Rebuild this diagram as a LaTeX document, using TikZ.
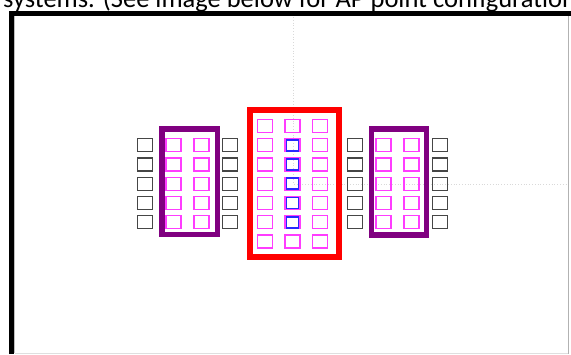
\documentclass[tikz,border=0pt]{standalone}
\usepackage{fontspec}
\setmainfont{Carlito}
\definecolor{pinkline}{RGB}{255,60,255}
\definecolor{blueline}{RGB}{40,40,255}
\definecolor{grayline}{RGB}{70,70,70}
\definecolor{boxpurple}{RGB}{128,0,128}
\definecolor{boxred}{RGB}{255,0,0}
\begin{document}
\begin{tikzpicture}[x=1pt,y=-1pt,
  sq/.style={draw, minimum width=15pt, minimum height=13pt, inner sep=0pt, outer sep=0pt},
  pinksq/.style={sq, draw=pinkline, line width=1.3pt},
  graysq/.style={sq, draw=grayline, line width=1.2pt},
  bluesq/.style={sq, draw=blueline, line width=1.8pt, minimum width=12pt, minimum height=11pt},
  redbox/.style={draw=boxred, line width=6pt, inner sep=0pt, outer sep=0pt},
  purplebox/.style={draw=boxpurple, line width=5.5pt, inner sep=0pt, outer sep=0pt},
  gridline/.style={draw=gray!30, dotted, line width=0.8pt},
  framebar/.style={draw=black, line width=5pt}]
\useasboundingbox (0,0) rectangle (571,354);
\clip (0,0) rectangle (571,354);
% clipped caption text at the top
\node[anchor=base west, font=\fontsize{26.5}{30}\selectfont, inner sep=0pt] (caption) at (3,7.5) {systems. (See image below for AP point configuration};
% frame
\coordinate (fbl) at (11.5,354);
\coordinate (ftl) at (11.5,13.5);
\coordinate (ftr) at (571,13.5);
\draw[framebar] (fbl) -- (ftl) -- (ftr);
\coordinate (rt) at (568,16);
\coordinate (rb) at (568,354);
\draw[gray!60, line width=1pt] (rt) -- (rb);
\coordinate (bl) at (14.5,353);
\coordinate (br) at (568,353);
\draw[gray!25, line width=1pt] (bl) -- (br);
\coordinate (il) at (14.5,16);
\draw[gray!50, line width=0.8pt] (il) -- (bl);
% faint grid lines
\coordinate (g1) at (293,17);
\coordinate (g2) at (293,184);
\coordinate (g3) at (567,184);
\draw[gridline] (g1) -- (g2) -- (g3);
% boxes
\node[redbox, minimum width=89pt, minimum height=147pt] (centerbox) at (294.5,183.5) {};
\node[purplebox, minimum width=55.5pt, minimum height=105.5pt] (leftbox) at (189.75,181.75) {};
\node[purplebox, minimum width=55pt, minimum height=106pt] (rightbox) at (399,182) {};
% center squares
\foreach \r [evaluate=\r as \yy using 126+19.25*(\r-1)] in {1,...,7} {
  \node[pinksq] (c1-\r) at (265,\yy) {};
  \node[pinksq] (c2-\r) at (292.5,\yy) {};
  \node[pinksq] (c3-\r) at (320,\yy) {};
}
\foreach \r [evaluate=\r as \yy using 126+19.25*(\r-1)] in {2,...,6} {
  \node[bluesq] (b-\r) at (292.5,\yy) {};
  \node[graysq] (lg1-\r) at (145,\yy) {};
  \node[pinksq] (lp1-\r) at (173.5,\yy) {};
  \node[pinksq] (lp2-\r) at (201.5,\yy) {};
  \node[graysq] (lg2-\r) at (230,\yy) {};
  \node[graysq] (rg1-\r) at (355,\yy) {};
  \node[pinksq] (rp1-\r) at (383.5,\yy) {};
  \node[pinksq] (rp2-\r) at (411.5,\yy) {};
  \node[graysq] (rg2-\r) at (440,\yy) {};
}
\end{tikzpicture}
\end{document}
